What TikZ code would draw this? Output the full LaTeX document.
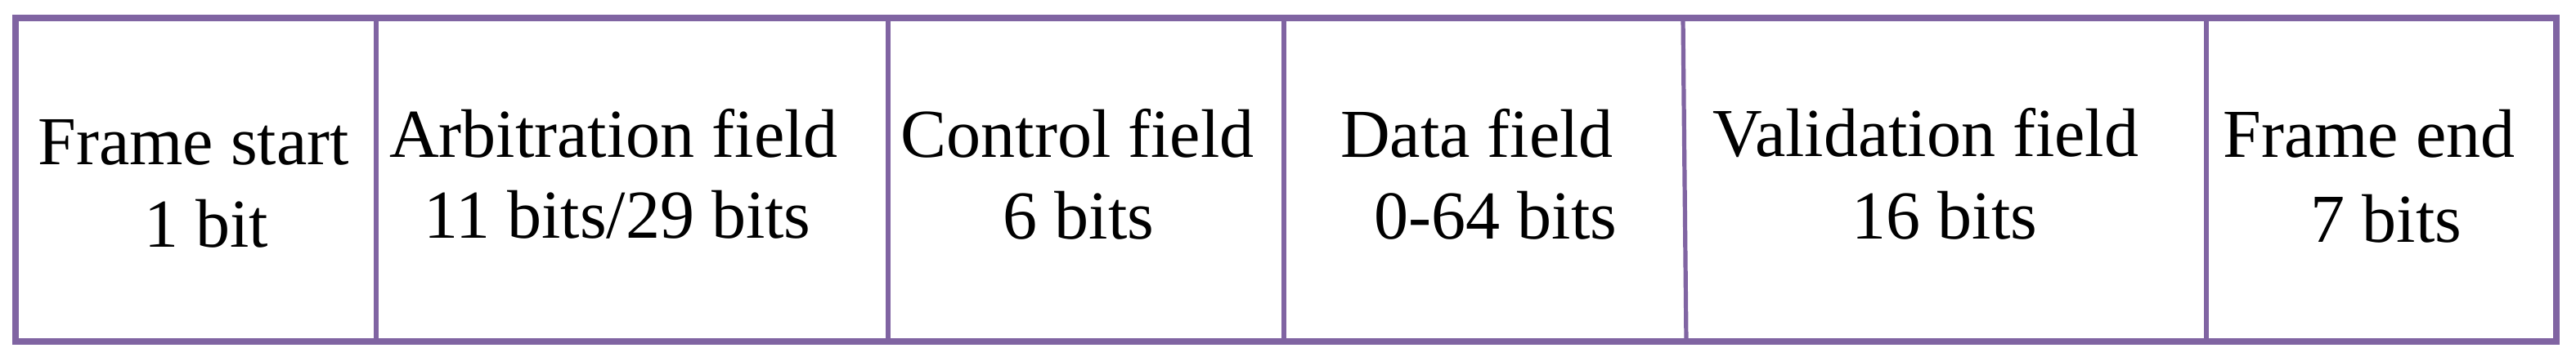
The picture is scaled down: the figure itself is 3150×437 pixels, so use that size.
\documentclass[tikz,border=0pt]{standalone}
\usepackage{fontspec}
\setmainfont{Liberation Serif}
\definecolor{framepurple}{HTML}{8064A2}
\begin{document}
\begin{tikzpicture}[x=0.01cm,y=-0.01cm,
  outerframe/.style={draw=framepurple, line width=0.082cm},
  divider/.style={draw=framepurple, line width=0.052cm},
  lbl/.style={anchor=base, inner sep=0pt, font=\fontsize{23.9}{28}\selectfont}]
\useasboundingbox (0,0) rectangle (3150,437);
% divider end points
\coordinate (d1t) at (460,22);  \coordinate (d1b) at (460,418);
\coordinate (d2t) at (1086,22); \coordinate (d2b) at (1086,418);
\coordinate (d3t) at (1570,22); \coordinate (d3b) at (1570,418);
\coordinate (d4t) at (2058,22); \coordinate (d4b) at (2062,418);
\coordinate (d5t) at (2698,22); \coordinate (d5b) at (2698,418);
\draw[divider] (d1t) -- (d1b);
\draw[divider] (d2t) -- (d2b);
\draw[divider] (d3t) -- (d3b);
\draw[divider] (d4t) -- (d4b);
\draw[divider] (d5t) -- (d5b);
\draw[outerframe] (19,22) rectangle (3126,418);
% labels
\node[lbl] (s1) at (236.5,202) {Frame start};
\node[lbl] (s2) at (252,303) {1 bit};
\node[lbl] (a1) at (750.5,193) {Arbitration field};
\node[lbl] (a2) at (755,292) {11 bits/29 bits};
\node[lbl] (c1) at (1317.5,193) {Control field};
\node[lbl] (c2) at (1319,293) {6 bits};
\node[lbl] (da1) at (1806,193) {Data field};
\node[lbl] (da2) at (1829,293) {0-64 bits};
\node[lbl] (v1) at (2355,192) {Validation field};
\node[lbl] (v2) at (2378,293) {16 bits};
\node[lbl] (e1) at (2897,193) {Frame end};
\node[lbl] (e2) at (2918,297) {7 bits};
\end{tikzpicture}
\end{document}
